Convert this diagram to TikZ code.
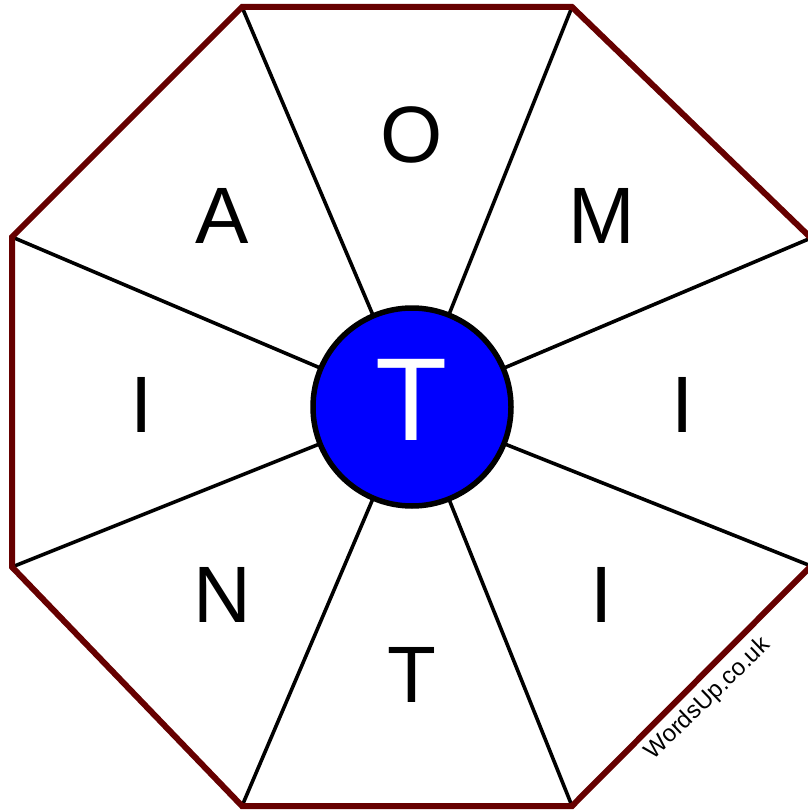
\documentclass[tikz,border=0pt]{standalone}
\usepackage{fontspec}
\setmainfont{Liberation Sans}
\usetikzlibrary{
    arrows.meta,
    positioning,
    calc
}
\definecolor{rimRed}{RGB}{102,0,0}
\definecolor{hubBlue}{RGB}{0,0,255}
\tikzset{
  rim/.style    = {draw=rimRed, line width=6pt, line join=miter},
  spoke/.style  = {draw=black, line width=3.6pt},
  hub/.style    = {circle, draw=black, line width=5.5pt, fill=hubBlue,
                   minimum size=198pt, inner sep=0pt},
  letter/.style = {font=\fontsize{80}{90}\selectfont, text=black, inner sep=0pt}
}
\begin{document}
\begin{tikzpicture}[x=1pt, y=-1pt]
\useasboundingbox (0,0) rectangle (807,810);

%% --- octagon corners ---
\coordinate (c1) at (242,7);
\coordinate (c2) at (572,7);
\coordinate (c3) at (811,238);
\coordinate (c4) at (811,566);
\coordinate (c5) at (572,806);
\coordinate (c6) at (242,806);
\coordinate (c7) at (12,567);
\coordinate (c8) at (12,237);

%% --- spokes ---
\coordinate (mid) at (412,407);
\foreach \i in {1,...,8}
  \draw[spoke] (c\i) -- (mid);

%% --- rim ---
\draw[rim] (c1) -- (c2) -- (c3) -- (c4) -- (c5) -- (c6) -- (c7) -- (c8) -- cycle;

%% --- centre letter ---
\node[hub] (hubT) at (mid) {};
\node[font=\fontsize{118}{120}\selectfont, text=white, inner sep=0pt]
  (hubL) at (412,400) {T};

%% --- outer letters ---
\node[letter] (lO) at (412,135) {O};
\node[letter] (lM) at (602,216) {M};
\node[letter] (lIr) at (683,405) {I};
\node[letter] (lIbr) at (602,595) {I};
\node[letter] (lT) at (412,675) {T};
\node[letter] (lN) at (222,595) {N};
\node[letter] (lIl) at (142,405) {I};
\node[letter] (lA) at (222,216) {A};

%% --- site name along the lower right edge
\node[font=\fontsize{24}{26}\selectfont, rotate=44, inner sep=0pt]
  (site) at (708,699) {WordsUp.co.uk};

\end{tikzpicture}
\end{document}
